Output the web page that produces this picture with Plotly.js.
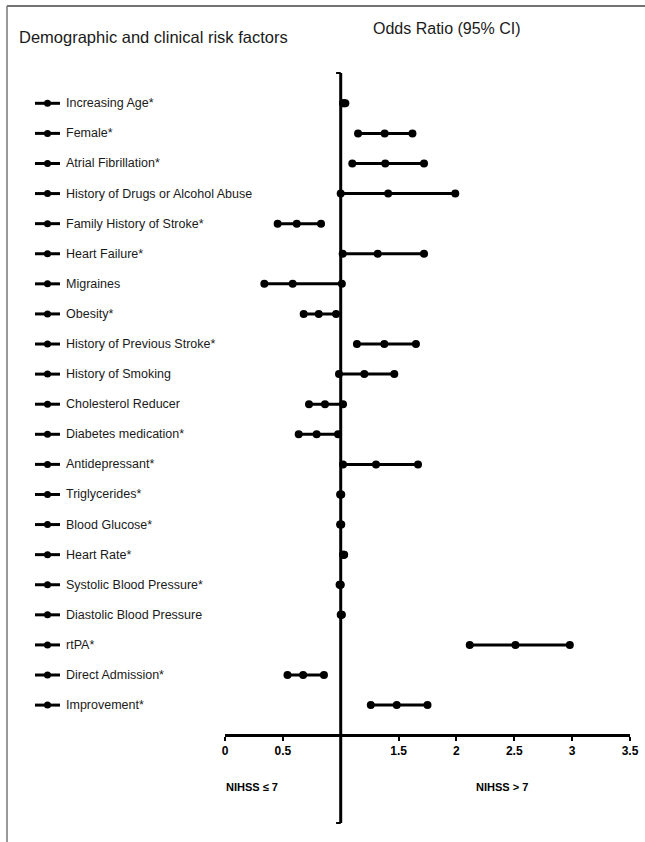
<!DOCTYPE html>
<html>
<head>
<meta charset="utf-8">
<script src="https://cdn.plot.ly/plotly-3.0.1.min.js"></script>
<style>
  html, body { margin: 0; padding: 0; background: #ffffff; }
  #chart { width: 645px; height: 842px; }
</style>
</head>
<body>
<div id="chart"></div>
<script>
// Risk factors, top to bottom
const factors = [
  "Increasing Age*",
  "Female*",
  "Atrial Fibrillation*",
  "History of Drugs or Alcohol Abuse",
  "Family History of Stroke*",
  "Heart Failure*",
  "Migraines",
  "Obesity*",
  "History of Previous Stroke*",
  "History of Smoking",
  "Cholesterol Reducer",
  "Diabetes medication*",
  "Antidepressant*",
  "Triglycerides*",
  "Blood Glucose*",
  "Heart Rate*",
  "Systolic Blood Pressure*",
  "Diastolic Blood Pressure",
  "rtPA*",
  "Direct Admission*",
  "Improvement*"
];

// Odds ratios with 95% confidence limits
const oddsRatio = [1.03, 1.38, 1.385, 1.41, 0.62, 1.32, 0.585, 0.81, 1.377, 1.204, 0.864, 0.792, 1.305, 1.0, 1.0, 1.026, 0.997, 1.005, 2.51, 0.675, 1.484];
const ciLower   = [1.02, 1.15, 1.10, 1.00, 0.455, 1.017, 0.34, 0.68, 1.14, 0.985, 0.726, 0.637, 1.02, 0.995, 0.995, 1.02, 0.99, 1.0, 2.115, 0.54, 1.26];
const ciUpper   = [1.04, 1.62, 1.72, 1.99, 0.83, 1.72, 1.01, 0.96, 1.65, 1.463, 1.02, 0.977, 1.668, 1.005, 1.005, 1.03, 1.0, 1.01, 2.98, 0.855, 1.75];

// Axis ticks (the reference value 1 is marked by the vertical line instead)
const tickValues = [0, 0.5, 1.5, 2, 2.5, 3, 3.5];
const tickLabels = ["0", "0.5", "1.5", "2", "2.5", "3", "3.5"];
const referenceOR = 1;
const groupLabels = ["NIHSS \u2264 7", "NIHSS > 7"];

const FONT = "Liberation Sans, Arial, sans-serif";
const INK = "#000000";

// CI segments
const segX = [], segY = [];
const dotX = [], dotY = [];
factors.forEach((f, i) => {
  segX.push(ciLower[i], ciUpper[i], null);
  segY.push(i, i, null);
  dotX.push(ciLower[i], oddsRatio[i], ciUpper[i]);
  dotY.push(i, i, i);
});

// Small line-and-dot bullets beside each label
const bulX = [], bulY = [], bulDotX = [], bulDotY = [];
factors.forEach((f, i) => {
  bulX.push(0, 1, null);
  bulY.push(i, i, null);
  bulDotX.push(0.5);
  bulDotY.push(i);
});

const traces = [
  { x: segX, y: segY, mode: "lines", line: { color: INK, width: 3 },
    hoverinfo: "skip", showlegend: false, cliponaxis: false },
  { x: dotX, y: dotY, mode: "markers", marker: { color: INK, size: 8 },
    showlegend: false, cliponaxis: false },
  { x: bulX, y: bulY, xaxis: "x2", yaxis: "y", mode: "lines",
    line: { color: INK, width: 3 }, hoverinfo: "skip", showlegend: false, cliponaxis: false },
  { x: bulDotX, y: bulDotY, xaxis: "x2", yaxis: "y", mode: "markers",
    marker: { color: INK, size: 7 }, hoverinfo: "skip", showlegend: false, cliponaxis: false }
];

const W = 645, H = 842;
const M = { l: 10, r: 15, t: 73, b: 108 };
const plotW = W - M.l - M.r;   // 620
const plotH = H - M.t - M.b;   // 661
const px2paperX = px => (px - M.l) / plotW;
const px2paperY = py => (H - M.b - py) / plotH;

const annotations = factors.map((f, i) => ({
  text: f, xref: "paper", yref: "y", x: px2paperX(64), y: i,
  xanchor: "left", yanchor: "middle", showarrow: false,
  font: { family: FONT, size: 12.5, color: "#1a1a1a" }
}));

annotations.push(
  { text: "Demographic and clinical risk factors", xref: "paper", yref: "paper",
    x: px2paperX(17), y: px2paperY(37), xanchor: "left", yanchor: "middle", showarrow: false,
    font: { family: FONT, size: 16.5, color: "#1a1a1a" } },
  { text: "Odds Ratio (95% CI)", xref: "paper", yref: "paper",
    x: px2paperX(371), y: px2paperY(28), xanchor: "left", yanchor: "middle", showarrow: false,
    font: { family: FONT, size: 16, color: "#1a1a1a" } },
  { text: "<b>" + groupLabels[0] + "</b>", xref: "paper", yref: "paper",
    x: px2paperX(224), y: px2paperY(787), xanchor: "left", yanchor: "middle", showarrow: false,
    font: { family: FONT, size: 11, color: INK } },
  { text: "<b>" + groupLabels[1] + "</b>", xref: "paper", yref: "paper",
    x: px2paperX(474), y: px2paperY(787), xanchor: "left", yanchor: "middle", showarrow: false,
    font: { family: FONT, size: 11, color: INK } }
);

const lineBottom = px2paperY(823);
const shapes = [
  // vertical line of no effect
  { type: "line", xref: "x", yref: "paper", x0: referenceOR, x1: referenceOR, y0: 1, y1: lineBottom,
    line: { color: INK, width: 3 } },
  { type: "line", xref: "x", yref: "paper", x0: referenceOR - 0.04, x1: referenceOR, y0: 1, y1: 1,
    line: { color: INK, width: 2 } },
  { type: "line", xref: "x", yref: "paper", x0: referenceOR - 0.04, x1: referenceOR, y0: lineBottom, y1: lineBottom,
    line: { color: INK, width: 2 } },
  // frame edges
  { type: "line", xref: "paper", yref: "paper", x0: px2paperX(7), x1: px2paperX(645), y0: px2paperY(6), y1: px2paperY(6),
    line: { color: "#444444", width: 1.5 } },
  { type: "line", xref: "paper", yref: "paper", x0: px2paperX(7), x1: px2paperX(7), y0: px2paperY(6), y1: px2paperY(842),
    line: { color: "#777777", width: 1.5 } }
];

const layout = {
  width: W, height: H,
  margin: M,
  paper_bgcolor: "#ffffff", plot_bgcolor: "rgba(0,0,0,0)",
  showlegend: false,
  xaxis: {
    domain: [px2paperX(225), 1], range: [0, 3.5],
    showgrid: false, zeroline: false,
    showline: true, linecolor: INK, linewidth: 3,
    ticks: "outside", ticklen: 4, tickwidth: 2, tickcolor: INK,
    tickvals: tickValues, ticktext: tickLabels,
    tickfont: { family: FONT, size: 12, color: INK, weight: "bold" },
    fixedrange: true
  },
  xaxis2: {
    domain: [px2paperX(35), px2paperX(60)], range: [0, 1], anchor: "y",
    visible: false, fixedrange: true
  },
  yaxis: {
    range: [(734 - 103.3) / 30.09, (73 - 103.3) / 30.09],
    visible: false, fixedrange: true
  },
  annotations: annotations,
  shapes: shapes
};

Plotly.newPlot("chart", traces, layout, { displayModeBar: false, staticPlot: true });
</script>
</body>
</html>
